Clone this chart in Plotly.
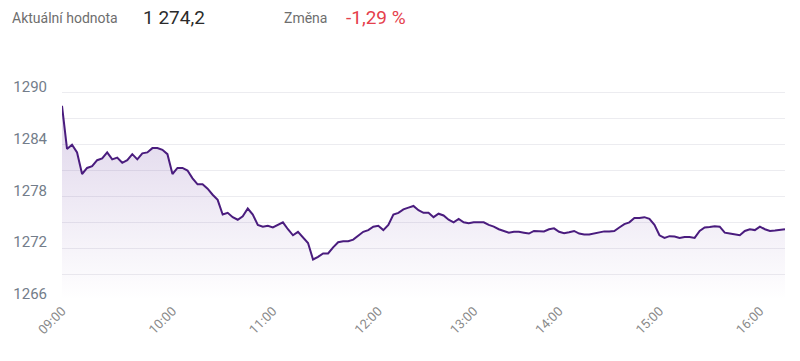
import plotly.graph_objects as go

# ---- data -------------------------------------------------------------
HOURS = [9, 10, 11, 12, 13, 14, 15, 16]
POINTS_PER_HOUR = [22, 20, 21, 19, 17, 20, 20, 6]
MINUTES_SPAN = [60, 60, 60, 60, 60, 60, 60, 15]

VALUES = [
    1288.5, 1283.5, 1284.0, 1283.1, 1280.6, 1281.3, 1281.5, 1282.2, 1282.4, 1283.1,
    1282.3, 1282.5, 1281.9, 1282.2, 1282.9, 1282.3, 1283.0, 1283.1, 1283.6, 1283.6,
    1283.4, 1282.9, 1280.6, 1281.3, 1281.3, 1281.0, 1280.1, 1279.4, 1279.4, 1278.9,
    1278.2, 1277.6, 1275.9, 1276.1, 1275.6, 1275.3, 1275.7, 1276.6, 1275.9, 1274.7,
    1274.5, 1274.6, 1274.4, 1274.7, 1275.0, 1274.2, 1273.5, 1273.9, 1273.3, 1272.6,
    1270.7, 1271.0, 1271.4, 1271.4, 1272.1, 1272.7, 1272.8, 1272.8, 1273.0, 1273.4,
    1273.9, 1274.1, 1274.5, 1274.6, 1274.1, 1274.7, 1275.9, 1276.1, 1276.5, 1276.7,
    1276.9, 1276.4, 1276.1, 1276.1, 1275.6, 1276.0, 1275.8, 1275.3, 1275.0, 1275.4,
    1275.0, 1274.9, 1275.0, 1275.0, 1275.0, 1274.7, 1274.5, 1274.2, 1274.0, 1273.8,
    1273.9, 1273.9, 1273.8, 1273.7, 1274.0, 1274.0, 1273.95, 1274.2, 1274.3, 1273.9,
    1273.75, 1273.85, 1274.0, 1273.7, 1273.6, 1273.6, 1273.7, 1273.8, 1273.95, 1273.95,
    1274.0, 1274.4, 1274.8, 1275.0, 1275.5, 1275.5, 1275.6, 1275.4, 1274.7, 1273.5,
    1273.2, 1273.4, 1273.35, 1273.2, 1273.3, 1273.3, 1273.2, 1274.0, 1274.4, 1274.45,
    1274.55, 1274.5, 1273.8, 1273.7, 1273.6, 1273.5, 1274.0, 1274.2, 1274.1, 1274.5,
    1274.2, 1274.0, 1274.05, 1274.1, 1274.2,
]

Y_TICKS = [1266, 1269, 1272, 1275, 1278, 1281, 1284, 1287, 1290, 1293]
Y_LABELS = ["1266", "", "1272", "", "1278", "", "1284", "", "1290", ""]
X_TICKS = ["09:00", "10:00", "11:00", "12:00", "13:00", "14:00", "15:00", "16:00"]

CURRENT_LABEL = "Aktuální hodnota"
CURRENT_VALUE = "1 274,2"
CHANGE_LABEL = "Změna"
CHANGE_VALUE = "-1,29 %"

# ---- build time categories -----------------------------------------------
times = []
for h, n, span in zip(HOURS, POINTS_PER_HOUR, MINUTES_SPAN):
    for k in range(n):
        m = int(round(span * k / n))
        times.append(f"{h:02d}:{m:02d}")
times = times[:len(VALUES)]

W, H = 800, 361
ML, MR, MT, MB = 62, 15, 67, 61
PW, PH = W - ML - MR, H - MT - MB

def px(xp):
    return (xp - ML) / PW

def py(yp):
    return (H - MB - yp) / PH

LINE = "#4a1c7e"
FONT = "Roboto, 'Open Sans', Arial, sans-serif"

fig = go.Figure()
fig.add_trace(go.Scatter(
    x=times, y=VALUES, mode="lines",
    line=dict(color=LINE, width=2),
    fill="tozeroy",
    fillgradient=dict(
        type="vertical", start=1266, stop=1289,
        colorscale=[[0, "rgba(120,80,170,0.0)"], [1, "rgba(120,80,170,0.25)"]],
    ),
    hoverinfo="x+y",
    showlegend=False,
))

fig.update_layout(
    width=W, height=H,
    margin=dict(l=ML, r=MR, t=MT, b=MB, autoexpand=False),
    paper_bgcolor="white", plot_bgcolor="white",
    font=dict(family=FONT),
    xaxis=dict(
        type="category", range=[0, len(VALUES) - 1], automargin=False,
        tickmode="array", tickvals=X_TICKS, ticktext=X_TICKS,
        tickangle=-45, showgrid=False, zeroline=False, showline=False,
        tickfont=dict(size=13, color="#8a8a8a"),
    ),
    yaxis=dict(
        range=[1266, 1293], tickmode="array", tickvals=Y_TICKS, ticktext=Y_LABELS,
        automargin=False,
        showgrid=True, gridcolor="#ececf0", gridwidth=1, zeroline=False, showline=False,
        tickfont=dict(size=15, color="#737d8a"),
        ticklabelshift=-6, ticklabelstandoff=14,
    ),
)

ann = [
    (10, CURRENT_LABEL, 14, "#6e6e6e"),
    (141, CURRENT_VALUE, 19, "#2b2b2b"),
    (282, CHANGE_LABEL, 14, "#6e6e6e"),
    (344, CHANGE_VALUE, 19, "#e5404c"),
]
for xpix, text, size, color in ann:
    fig.add_annotation(
        x=px(xpix), y=py(18), xref="paper", yref="paper",
        xanchor="left", yanchor="middle", text=text, showarrow=False,
        font=dict(size=size, color=color, family=FONT),
    )

fig.write_html(
    "out.html",
    config={"displayModeBar": False},
    post_script="document.body.style.margin='0';document.body.style.overflow='hidden';",
)
